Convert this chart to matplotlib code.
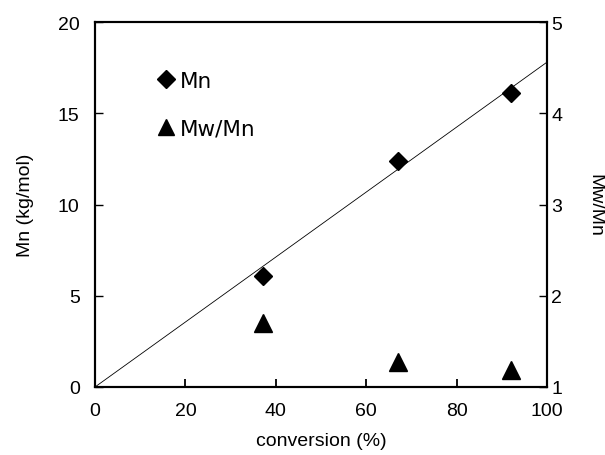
import matplotlib
matplotlib.use('Agg')
import matplotlib.pyplot as plt
from matplotlib.lines import Line2D

# data
conversion = [37.2, 67.0, 92.0]
mn = [6.08, 12.38, 16.1]
mw_mn = [1.70, 1.27, 1.19]
fit_x = [0, 100]
fit_mn = [0, 17.8]

plt.rcParams['font.family'] = ['Liberation Sans', 'DejaVu Sans']
plt.rcParams['font.size'] = 14

fig = plt.figure(figsize=(6.05, 4.56), dpi=100)
ax = fig.add_axes([95 / 605, 1 - 388 / 456, 452 / 605, 365 / 456])
ax2 = ax.twinx()

ax.plot(fit_x, fit_mn, color='black', linewidth=0.6)
ax.plot(conversion, mn, linestyle='none', marker='D', markersize=9.5, color='black')
ax2.plot(conversion, mw_mn, linestyle='none', marker='^', markersize=12.5, color='black')

ax.set_xlim(0, 100)
ax.set_ylim(0, 20)
ax2.set_ylim(1, 5)
ax.set_xticks([0, 20, 40, 60, 80, 100])
ax.set_yticks([0, 5, 10, 15, 20])
ax2.set_yticks([1, 2, 3, 4, 5])

for a in (ax, ax2):
    for s in a.spines.values():
        s.set_linewidth(1.5)
ax.tick_params(axis='x', direction='in', length=6, width=1.3, pad=11)
ax.tick_params(axis='y', direction='in', length=6, width=1.0, pad=11)
ax2.tick_params(axis='y', direction='in', length=6, width=1.0, pad=3)

ax.set_xlabel('conversion (%)', labelpad=9)
ax.set_ylabel('Mn (kg/mol)', labelpad=17)
ax2.set_ylabel('Mw/Mn', rotation=270, labelpad=30)

handles = [Line2D([], [], linestyle='none', marker='D', markersize=9, color='black'),
           Line2D([], [], linestyle='none', marker='^', markersize=12, color='black')]
ax2.legend(handles, ['Mn', 'Mw/Mn'], loc='upper left', bbox_to_anchor=(0.12, 0.89),
           frameon=False, handlelength=0.8, handletextpad=0.2, labelspacing=1.3,
           borderaxespad=0, prop={'family': 'DejaVu Sans', 'size': 15.5})

plt.savefig('out.png', dpi=100)
plt.close()
